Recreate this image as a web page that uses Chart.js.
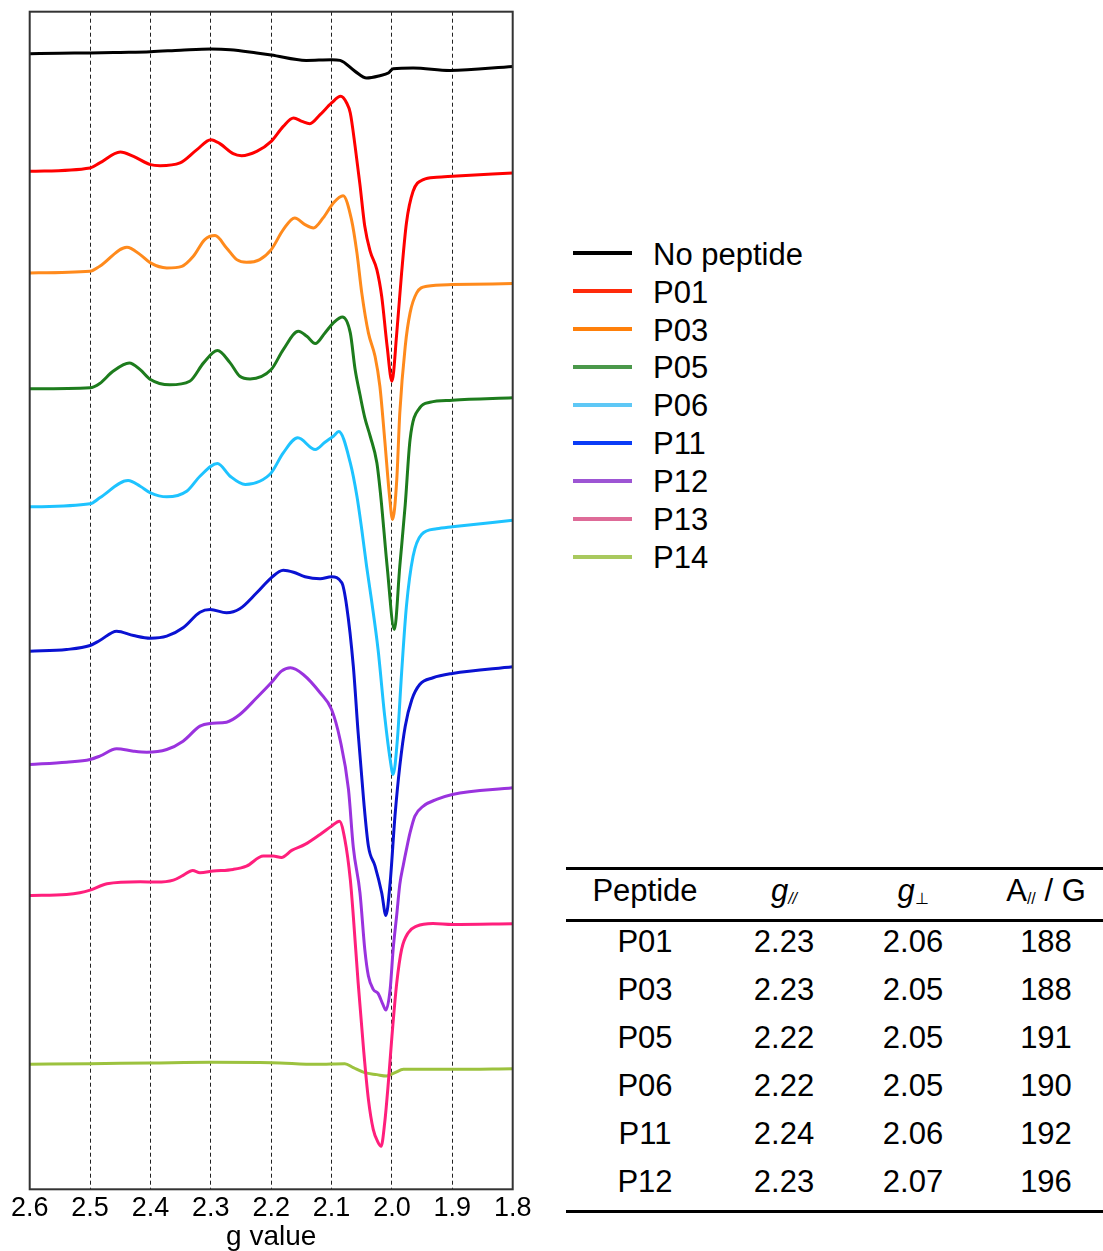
<!DOCTYPE html>
<html>
<head>
<meta charset="utf-8">
<script src="https://cdn.jsdelivr.net/npm/chart.js@4.4.1/dist/chart.umd.min.js"></script>
<style>
body { margin: 0; background: #fff; font-family: "Liberation Sans", Arial, sans-serif; color: #000; }
#wrap { position: relative; width: 1103px; height: 1251px; overflow: hidden; }
#plot { position: absolute; left: 0; top: 0; }
.lg-line { position: absolute; left: 573px; width: 59px; height: 4px; }
.txt { position: absolute; white-space: nowrap; }
.cell { position: absolute; width: 160px; text-align: center; white-space: nowrap; }
.rule { position: absolute; left: 566px; width: 537px; height: 3px; background: #000; }
.sub { font-size: 16px; vertical-align: -3px; }
</style>
</head>
<body>
<div id="wrap">
  <canvas id="plot" width="560" height="1251"></canvas>
</div>
<script>
// EPR spectra, g value vs intensity (offset per trace, arbitrary units)
const gNoPeptide = [2.600, 2.550, 2.500, 2.450, 2.400, 2.350, 2.300, 2.268, 2.224, 2.200, 2.142, 2.100, 2.086, 2.061, 2.042, 2.020, 2.006, 1.998, 1.965, 1.904, 1.800];
const yNoPeptide = [1136, 1136.5, 1136.7, 1137.3, 1138, 1139.5, 1140.7, 1140, 1136.7, 1134.7, 1129.3, 1130, 1129.3, 1118.3, 1111.7, 1114, 1116.7, 1121, 1121.7, 1119.3, 1123.3];

const gP01 = [2.600, 2.500, 2.484, 2.450, 2.428, 2.400, 2.384, 2.351, 2.323, 2.300, 2.285, 2.263, 2.249, 2.224, 2.200, 2.180, 2.163, 2.149, 2.136, 2.119, 2.100, 2.085, 2.075, 2.069, 2.061, 2.053, 2.045, 2.036, 2.025, 2.017, 2.008, 2.000, 1.992, 1.984, 1.976, 1.965, 1.948, 1.926, 1.900, 1.800];
const yP01 = [1018.3, 1021.7, 1026.7, 1037.7, 1033.3, 1025, 1024, 1026.7, 1040, 1050, 1046, 1036, 1034, 1038.3, 1048.3, 1063.3, 1071.7, 1068.3, 1066, 1075, 1086.7, 1093.3, 1086.7, 1076.7, 1043.3, 1005, 963.3, 938.3, 920, 893.3, 843.3, 808.3, 856.7, 916.7, 966.7, 998.3, 1010, 1012.3, 1013.3, 1016.7];

const gP03 = [2.600, 2.500, 2.484, 2.439, 2.417, 2.400, 2.373, 2.348, 2.329, 2.310, 2.293, 2.274, 2.257, 2.241, 2.219, 2.200, 2.180, 2.161, 2.144, 2.130, 2.114, 2.097, 2.081, 2.067, 2.058, 2.050, 2.039, 2.028, 2.020, 2.012, 2.004, 1.999, 1.992, 1.987, 1.978, 1.970, 1.959, 1.942, 1.900, 1.800];
const yP03 = [916.7, 918.3, 923.3, 942.3, 935, 926.7, 921.7, 923.3, 933.3, 950, 954, 941.7, 930, 927.3, 930, 940, 960, 971.7, 965, 961.7, 971.7, 986.7, 994, 970, 936.7, 896.7, 856.7, 833.3, 803.3, 750, 693.3, 670, 710, 776.7, 843.3, 876.7, 896.7, 903.3, 905, 906];

const gP05 = [2.600, 2.500, 2.484, 2.462, 2.435, 2.417, 2.400, 2.368, 2.335, 2.312, 2.289, 2.268, 2.252, 2.235, 2.200, 2.180, 2.155, 2.141, 2.127, 2.111, 2.097, 2.082, 2.069, 2.061, 2.053, 2.045, 2.036, 2.025, 2.018, 2.008, 1.996, 1.987, 1.978, 1.970, 1.954, 1.937, 1.900, 1.800];
const yP05 = [800.7, 801.7, 806, 818.3, 826.7, 820, 810, 804.7, 808.3, 826.7, 839, 826.7, 813.3, 810.7, 820, 840, 858.3, 853.3, 846, 856.7, 866.7, 872.7, 856.7, 820, 795, 772, 753.3, 726.7, 690, 623.3, 560, 623.3, 685, 750, 781.7, 787.3, 789.3, 791.7];

const gP06 = [2.600, 2.500, 2.484, 2.437, 2.417, 2.400, 2.373, 2.340, 2.318, 2.289, 2.268, 2.243, 2.219, 2.200, 2.180, 2.156, 2.127, 2.111, 2.097, 2.088, 2.069, 2.058, 2.050, 2.042, 2.034, 2.023, 2.012, 2.003, 1.998, 1.991, 1.984, 1.976, 1.965, 1.951, 1.926, 1.900, 1.800];
const yP06 = [682.7, 685.7, 691.7, 709, 703.3, 696.7, 692.7, 698.3, 713.3, 726, 713.3, 705, 708.3, 716.7, 736.7, 751.7, 740, 747.3, 753.3, 758, 726.7, 693.3, 660, 623.3, 590, 540, 473.3, 430, 415, 450, 516.7, 583.3, 633.3, 655, 660.7, 662.7, 669.3];

const gP11 = [2.600, 2.539, 2.500, 2.484, 2.456, 2.428, 2.400, 2.373, 2.346, 2.318, 2.301, 2.274, 2.252, 2.224, 2.200, 2.180, 2.163, 2.144, 2.119, 2.100, 2.083, 2.075, 2.064, 2.056, 2.047, 2.039, 2.028, 2.017, 2.010, 2.003, 1.995, 1.987, 1.978, 1.967, 1.954, 1.932, 1.900, 1.800];
const yP11 = [538.3, 540, 544, 549, 558.3, 554, 551.3, 553.3, 561.7, 577.3, 580, 576.7, 580.7, 596.7, 611.7, 619.3, 617.3, 612.7, 610.7, 612.7, 606.7, 583.3, 523.3, 456.7, 390, 343.3, 323.3, 296.7, 274, 306.7, 373.3, 423.3, 463.3, 490, 505, 511.7, 516, 522.7];

const gP12 = [2.600, 2.539, 2.500, 2.484, 2.456, 2.428, 2.406, 2.373, 2.346, 2.318, 2.301, 2.274, 2.252, 2.224, 2.200, 2.183, 2.168, 2.147, 2.119, 2.100, 2.086, 2.072, 2.064, 2.053, 2.045, 2.039, 2.031, 2.023, 2.015, 2.010, 2.003, 1.998, 1.992, 1.987, 1.981, 1.976, 1.970, 1.962, 1.948, 1.926, 1.900, 1.800];
const yP12 = [425, 427.3, 430, 433.3, 440.7, 438.3, 437.3, 440, 448.3, 463.3, 466, 467.3, 475, 491.7, 506.7, 518.3, 521.7, 515, 496.7, 480, 450, 400, 342, 296.7, 240, 213.3, 200, 196, 185, 179.3, 200, 240, 275, 305, 325, 340, 356.7, 373.3, 383.3, 390, 395, 401.7];

const gP13 = [2.600, 2.539, 2.517, 2.500, 2.472, 2.417, 2.390, 2.362, 2.346, 2.330, 2.318, 2.296, 2.263, 2.241, 2.213, 2.197, 2.183, 2.166, 2.144, 2.119, 2.100, 2.087, 2.078, 2.069, 2.064, 2.056, 2.047, 2.039, 2.031, 2.023, 2.018, 2.012, 2.006, 2.000, 1.992, 1.984, 1.973, 1.959, 1.932, 1.900, 1.800];
const yP13 = [294, 295, 296.7, 299.3, 305.7, 307.7, 307.3, 309.3, 314, 319, 316.7, 318.3, 320, 323.3, 333.3, 333.3, 332, 339, 345, 355, 363.3, 368.3, 350, 310, 273.3, 206.7, 140, 90, 60, 47, 43, 66.7, 106.7, 153.3, 206.7, 240, 256.7, 263.3, 266, 265, 265.7];

const gP14 = [2.600, 2.500, 2.400, 2.300, 2.200, 2.125, 2.078, 2.064, 2.045, 2.025, 2.009, 1.995, 1.981, 1.954, 1.900, 1.800];
const yP14 = [125, 125.7, 126.3, 127, 126.7, 125, 125.7, 121.7, 116.7, 114.7, 113.3, 116.7, 120, 120, 120, 120.7];

const names = ['No peptide', 'P01', 'P03', 'P05', 'P06', 'P11', 'P12', 'P13', 'P14'];
const gValues = [gNoPeptide, gP01, gP03, gP05, gP06, gP11, gP12, gP13, gP14];
const intensities = [yNoPeptide, yP01, yP03, yP05, yP06, yP11, yP12, yP13, yP14];
const lineColors = ['#000000', '#ff0000', '#ff8a1c', '#1d7c1d', '#1ec3ff', '#0a12d2', '#9a33de', '#ff1f7c', '#9cc23e'];
const legendColors = ['#000000', '#ff2a0a', '#ff800a', '#4a984a', '#5ec8f6', '#0a3cf7', '#9d55d4', '#de6b98', '#a9c95e'];

// table values
const tablePeptides = ['P01', 'P03', 'P05', 'P06', 'P11', 'P12'];
const gParallel = ['2.23', '2.23', '2.22', '2.22', '2.24', '2.23'];
const gPerpendicular = ['2.06', '2.05', '2.05', '2.05', '2.06', '2.07'];
const aParallel = ['188', '188', '191', '190', '192', '196'];

const FONT = '"Liberation Sans", Arial, sans-serif';

// box around the plot area
const frame = {
    id: 'frame',
    afterDatasetsDraw(chart) {
        const a = chart.chartArea, ctx = chart.ctx;
        ctx.save();
        ctx.strokeStyle = '#333';
        ctx.lineWidth = 2;
        ctx.strokeRect(a.left, a.top, a.right - a.left, a.bottom - a.top);
        ctx.restore();
    }
};

new Chart(document.getElementById('plot'), {
    type: 'line',
    data: {
        datasets: names.map((name, i) => ({
            label: name,
            data: gValues[i].map((g, j) => ({ x: g, y: intensities[i][j] })),
            borderColor: lineColors[i],
            borderWidth: 3,
            pointRadius: 0,
            fill: false,
            cubicInterpolationMode: 'monotone'
        }))
    },
    options: {
        responsive: false,
        animation: false,
        events: [],
        layout: { padding: { left: 29.7, top: 11.7, right: 47.3, bottom: 0 } },
        plugins: { legend: { display: false }, tooltip: { enabled: false } },
        scales: {
            x: {
                type: 'linear',
                reverse: true,
                min: 1.8,
                max: 2.6,
                afterFit: s => { s.height = 61.7; },
                ticks: {
                    stepSize: 0.1,
                    padding: 3,
                    color: '#000',
                    maxRotation: 0,
                    autoSkip: false,
                    font: { family: FONT, size: 27 },
                    callback: v => v.toFixed(1)
                },
                grid: { color: '#222', lineWidth: 1, drawTicks: false, borderDash: [4, 3] },
                border: { display: false, dash: [4, 3] },
                title: {
                    display: true,
                    text: 'g value',
                    color: '#000',
                    font: { family: FONT, size: 28 },
                    padding: { top: 0, bottom: -3 }
                }
            },
            y: { display: false, min: 0, max: 1178 }
        }
    },
    plugins: [frame]
});

// legend and table as page text
const wrap = document.getElementById('wrap');
function addText(html, left, baseline, size, cls) {
    const d = document.createElement('div');
    d.className = cls || 'txt';
    d.innerHTML = html;
    d.style.fontSize = size + 'px';
    d.style.lineHeight = size + 'px';
    d.style.top = (baseline - 0.8465 * size) + 'px';
    d.style.left = left + 'px';
    wrap.appendChild(d);
}

names.forEach((name, i) => {
    const ln = document.createElement('div');
    ln.className = 'lg-line';
    ln.style.top = (253.3 + 37.9 * i - 2) + 'px';
    ln.style.background = legendColors[i];
    wrap.appendChild(ln);
    addText(name, 653, 265 + 37.9 * i, 31);
});

[867, 919, 1210].forEach(y => {
    const r = document.createElement('div');
    r.className = 'rule';
    r.style.top = y + 'px';
    wrap.appendChild(r);
});

const colCenters = [645, 784, 913, 1046];
const header = ['Peptide', '<i>g</i><i class="sub">//</i>', '<i>g</i><span class="sub">⊥</span>', 'A<span class="sub">//</span> / G'];
header.forEach((h, c) => addText(h, colCenters[c] - 80, 901.7, 31, 'cell'));
tablePeptides.forEach((p, r) => {
    const row = [p, gParallel[r], gPerpendicular[r], aParallel[r]];
    row.forEach((v, c) => addText(v, colCenters[c] - 80, 952 + 48 * r, 31, 'cell'));
});
</script>
</body>
</html>
